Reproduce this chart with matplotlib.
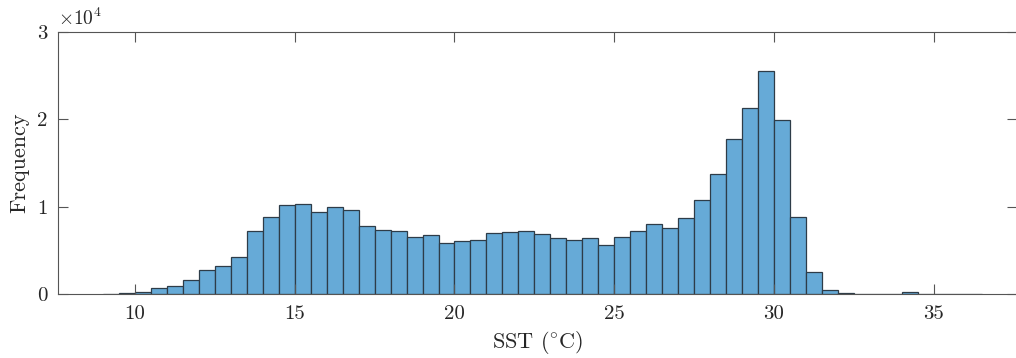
import numpy as np
import matplotlib
matplotlib.use("Agg")
import matplotlib.pyplot as plt

# histogram of SST, 0.5 degC bins starting at 9.0
bin_left = np.arange(9.0, 36.5, 0.5)
counts = [20, 60, 260, 680, 950, 1600, 2750, 3200, 4240, 7200,
          8780, 10200, 10320, 9430, 10000, 9650, 7800, 7370, 7210, 6480,
          6790, 5800, 6070, 6180, 6990, 7060, 7210, 6830, 6380, 6180,
          6380, 5610, 6540, 7240, 8040, 7520, 8740, 10740, 13700, 17680,
          21320, 25480, 19940, 8820, 2540, 460, 60, 30, 10, 5,
          240, 5, 5, 20, 20]
bin_width = 0.5

xticks = [10, 15, 20, 25, 30, 35]
yticks = [0, 1e4, 2e4, 3e4]
ytick_labels = ["0", "1", "2", "3"]

plt.rcParams["font.family"] = "cmr10"
plt.rcParams["mathtext.fontset"] = "cm"
plt.rcParams["axes.unicode_minus"] = False
plt.rcParams["axes.formatter.use_mathtext"] = True

fig = plt.figure(figsize=(10.16, 3.58), dpi=100)
ax = fig.add_axes([0.0574, 0.1788, 0.9434, 0.7327])

ax.bar(bin_left, counts, width=bin_width, align="edge",
       color="#66aad7", edgecolor="#2e3c48", linewidth=0.9)

ax.set_xlim(7.6, 37.6)
ax.set_ylim(0, 3e4)
ax.set_xticks(xticks)
ax.set_xticklabels([str(t) for t in xticks])
ax.set_yticks(yticks)
ax.set_yticklabels(ytick_labels)

for s in ax.spines.values():
    s.set_color("#555555")
    s.set_linewidth(0.8)

ax.tick_params(direction="in", length=7, width=0.8, color="#555555",
               labelsize=15, labelcolor="#262626", top=True, right=True)
ax.tick_params(axis="x", pad=8)
ax.tick_params(axis="y", pad=8)

ax.text(0.0, 1.01, r"$\times10^4$", transform=ax.transAxes,
        ha="left", va="bottom", fontsize=14, color="#262626")

ax.set_xlabel(r"SST $(^{\circ}\mathrm{C})$", fontsize=16, color="#262626", labelpad=4)
ax.set_ylabel("Frequency", fontsize=16, color="#262626", labelpad=5)

fig.savefig("out.png", dpi=100)
